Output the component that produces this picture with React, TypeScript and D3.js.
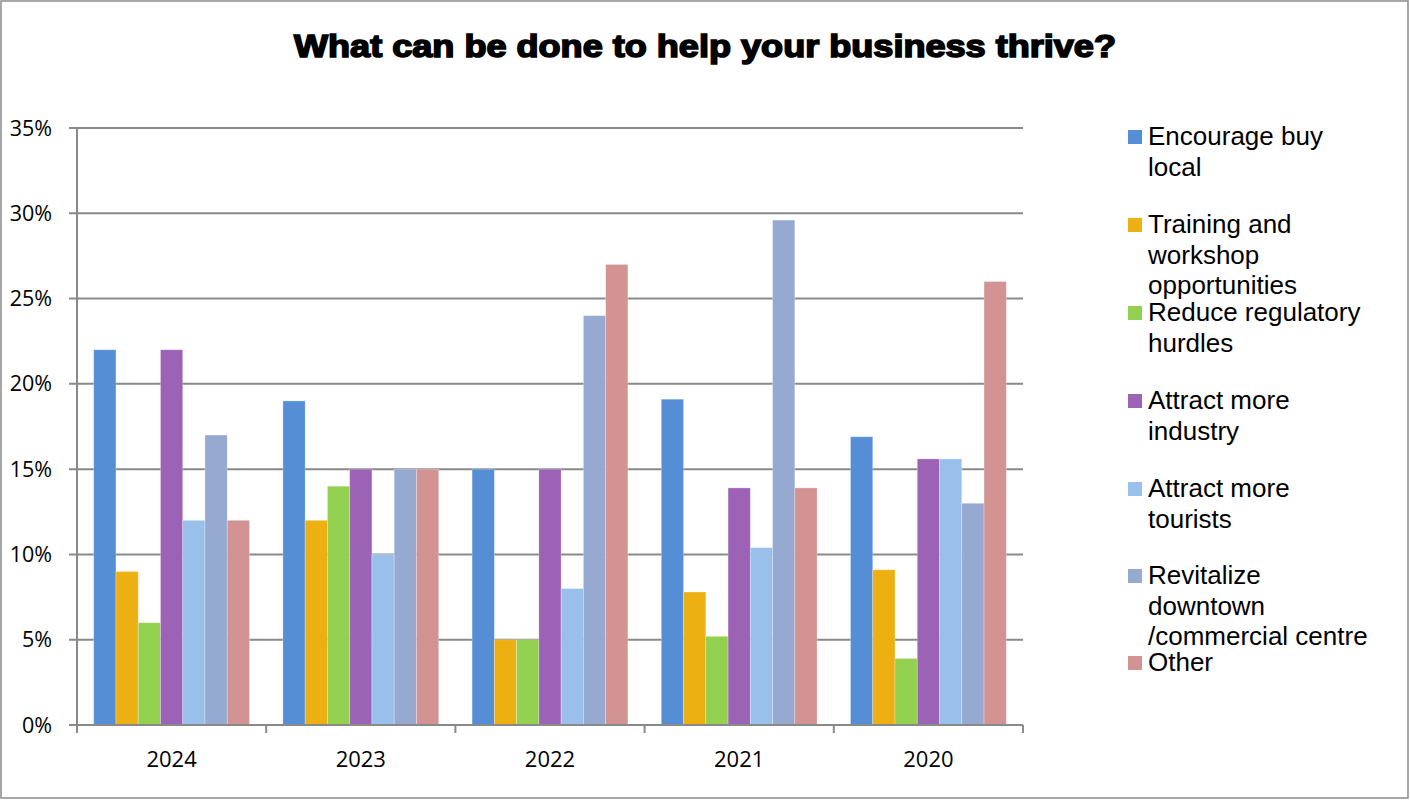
import React from "react";
import * as d3 from "d3";

const years = ["2024", "2023", "2022", "2021", "2020"];
const seriesNames = [
  "Encourage buy local",
  "Training and workshop opportunities",
  "Reduce regulatory hurdles",
  "Attract more industry",
  "Attract more tourists",
  "Revitalize downtown /commercial centre",
  "Other",
];
const legendLines = [
  ["Encourage buy", "local"],
  ["Training and", "workshop", "opportunities"],
  ["Reduce regulatory", "hurdles"],
  ["Attract more", "industry"],
  ["Attract more", "tourists"],
  ["Revitalize", "downtown", "/commercial centre"],
  ["Other"],
];
const encourageBuyLocal = [22, 19, 15, 19.1, 16.9];
const trainingWorkshop = [9, 12, 5, 7.8, 9.1];
const reduceRegulatory = [6, 14, 5, 5.2, 3.9];
const attractIndustry = [22, 15, 15, 13.9, 15.6];
const attractTourists = [12, 10, 8, 10.4, 15.6];
const revitalizeDowntown = [17, 15, 24, 29.6, 13];
const other = [12, 15, 27, 13.9, 26];
const seriesValues = [
  encourageBuyLocal,
  trainingWorkshop,
  reduceRegulatory,
  attractIndustry,
  attractTourists,
  revitalizeDowntown,
  other,
];
const colors = ["#558ED5", "#EDB013", "#92D050", "#9B62B5", "#98C0EB", "#95A9D1", "#D39392"];
const yTicks = [0, 5, 10, 15, 20, 25, 30, 35];

export default function App() {
  const W = 1410, H = 800;
  const left = 77, right = 1023, top = 128, bottom = 725;
  const x0 = d3.scaleBand().domain(years).range([left, right]).paddingInner(0).paddingOuter(0);
  const bw = x0.bandwidth();
  // gap width 150%: 7 bars + 1.5 bar widths of gap per category
  const barW = bw / 8.5;
  const offset = barW * 0.75;
  const x1 = d3
    .scaleBand()
    .domain(seriesNames)
    .range([offset, offset + barW * 7])
    .paddingOuter(0)
    .paddingInner(0);
  const y = d3.scaleLinear().domain([0, 35]).range([bottom, top]);
  const grid = "#898989";
  const legendY0 = [145, 233, 321, 409, 497, 584, 671];

  return (
    <svg width={W} height={H} style={{ position: "absolute", left: 0, top: 0, background: "#fff" }}>
      <rect x={1} y={1} width={W - 3} height={H - 3} fill="#fff" stroke="#8a8a8a" strokeWidth={1.5} />
      <text
        x={705}
        y={57}
        textAnchor="middle"
        fontFamily="Liberation Sans, Arial, sans-serif"
        fontWeight="bold"
        fontSize={31}
        stroke="#000"
        strokeWidth={1.6}
        textLength={822}
        lengthAdjust="spacingAndGlyphs"
      >
        What can be done to help your business thrive?
      </text>
      {yTicks.map((t) => (
        <g key={t}>
          <line x1={69} x2={right} y1={y(t)} y2={y(t)} stroke={grid} strokeWidth={2} />
          <text
            x={52}
            y={y(t) + 7.5}
            textAnchor="end"
            fontFamily="Open Sans, sans-serif"
            fontSize={21.5}
            fill="#000"
          >
            {t}%
          </text>
        </g>
      ))}
      {years.map((yr) =>
        seriesNames.map((s, j) => {
          const v = seriesValues[j][years.indexOf(yr)];
          const bx = (x0(yr) as number) + (x1(s) as number);
          return (
            <rect
              key={yr + s}
              x={bx}
              y={y(v)}
              width={x1.bandwidth()}
              height={bottom - y(v)}
              fill={colors[j]}
              stroke="#ffffff"
              strokeOpacity={0.35}
              strokeWidth={0.8}
            />
          );
        })
      )}
      <line x1={left} x2={left} y1={top} y2={bottom + 8} stroke={grid} strokeWidth={2} />
      <line x1={left} x2={right} y1={bottom} y2={bottom} stroke={grid} strokeWidth={2} />
      {years.map((yr) => (
        <line
          key={"t" + yr}
          x1={(x0(yr) as number) + bw}
          x2={(x0(yr) as number) + bw}
          y1={bottom}
          y2={bottom + 8}
          stroke={grid}
          strokeWidth={2}
        />
      ))}
      {years.map((yr) => (
        <text
          key={"l" + yr}
          x={(x0(yr) as number) + bw / 2}
          y={767}
          textAnchor="middle"
          fontFamily="Open Sans, sans-serif"
          fontSize={22}
          fill="#000"
        >
          {yr}
        </text>
      ))}
      {legendLines.map((lines, j) => (
        <g key={"lg" + j}>
          <rect x={1128} y={legendY0[j] - 15} width={14} height={14} fill={colors[j]} />
          {lines.map((ln, k) => (
            <text
              key={k}
              x={1148}
              y={legendY0[j] + k * 30.5}
              fontFamily="Liberation Sans, Arial, sans-serif"
              fontSize={26}
              fill="#000"
            >
              {ln}
            </text>
          ))}
        </g>
      ))}
    </svg>
  );
}
